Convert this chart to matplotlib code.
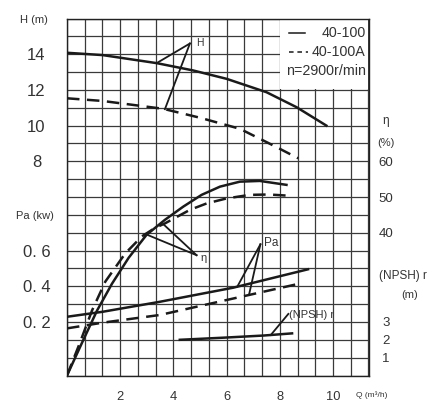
import numpy as np
import matplotlib
matplotlib.use("Agg")
import matplotlib.pyplot as plt
from matplotlib.patches import Rectangle

plt.rcParams['font.family'] = ['Liberation Sans', 'DejaVu Sans']

# 扬程 H (m)
q_h_a = [0, 1.34, 3.37, 4.74, 6.0, 7.5, 8.63, 9.75]
h_a = [14.08, 13.95, 13.5, 13.09, 12.62, 11.87, 11.03, 10.0]
q_h_b = [0, 1.34, 3.62, 5.0, 6.5, 7.75, 8.69]
h_b = [11.53, 11.38, 10.94, 10.44, 9.82, 8.89, 8.17]

# 效率 eta (%)
q_eta_a = [0, 0.56, 1.13, 1.69, 2.32, 2.99, 3.68, 4.37, 5.06, 5.75, 6.5, 7.25, 8.25]
eta_a = [0, 9.1, 18.2, 25.7, 33.0, 39.4, 43.6, 47.3, 50.6, 52.9, 54.3, 54.5, 53.4]
q_eta_b = [0, 0.45, 0.94, 1.44, 2.19, 2.82, 3.3, 3.68, 4.62, 5.25, 6.0, 6.87, 7.6, 8.25]
eta_b = [0, 8.5, 18.2, 26.3, 34.2, 39.0, 41.3, 42.6, 46.4, 48.2, 49.6, 50.6, 50.7, 50.4]

# 轴功率 Pa (kW)
q_pa_a = [0, 1.34, 3.49, 6.25, 9.06]
pa_a = [0.229, 0.257, 0.313, 0.392, 0.495]
q_pa_b = [0, 1.34, 3.49, 6.3, 8.63]
pa_b = [0.164, 0.196, 0.239, 0.333, 0.411]

# 必需汽蚀余量 (NPSH)r (m)
q_npsh = [4.24, 5.9, 7.4, 8.46]
npsh = [2.0, 2.12, 2.24, 2.36]

q_ticks = [2, 4, 6, 8, 10]
h_ticks = [8, 10, 12, 14]
eta_ticks = [40, 50, 60]
pa_ticks = [0.2, 0.4, 0.6]
pa_labels = ['0. 2', '0. 4', '0. 6']
npsh_ticks = [1, 2, 3]

W, H = 448, 412
ink = '#1a1a1a'
txt = '#333333'

fig = plt.figure(figsize=(W / 100, H / 100), dpi=100)
ax = fig.add_axes([67 / W, (H - 375.5) / H, 301.5 / W, 357 / H])
ax.set_xlim(0, 34 / 3)
ax.set_ylim(-4, 16)

# 网格 (每格 Q=2/3, H=1)
ax.set_xticks(np.arange(0, 34 / 3 + 0.01, 2 / 3), minor=True)
ax.set_yticks(np.arange(-4, 16.01, 1), minor=True)
ax.set_xticks(q_ticks)
ax.set_xticklabels([str(v) for v in q_ticks])
ax.set_yticks(h_ticks)
ax.set_yticklabels([str(v) for v in h_ticks])
ax.grid(which='both', color='#3a3a3a', lw=0.9, zorder=0)
ax.set_axisbelow(True)
for s in ax.spines.values():
    s.set_color('#222222')
    s.set_linewidth(1.0)
ax.tick_params(which='both', length=0)
ax.tick_params(axis='x', which='major', pad=11.5, labelsize=9.3, labelcolor=txt)
ax.tick_params(axis='y', which='major', pad=22, labelsize=12, labelcolor=txt)
for lb in ax.get_yticklabels():
    lb.set_horizontalalignment('center')

# 图例区域 (遮住网格)
ax.add_patch(Rectangle((12 / 17 + 0.002, 0.8 + 0.002), 5 / 17 - 0.004, 0.2 - 0.004,
                       transform=ax.transAxes, facecolor='white', edgecolor='none', zorder=2))


def twin(ylim):
    t = ax.twinx()
    t.set_ylim(*ylim)
    for s in t.spines.values():
        s.set_visible(False)
    return t


ax_eta = twin((0, 100))
ax_pa = twin((-0.1, 1.9))
ax_npsh = twin((0, 20))

ax_eta.set_yticks(eta_ticks)
ax_eta.set_yticklabels([str(v) for v in eta_ticks])
ax_eta.tick_params(axis='y', length=0, pad=12.6, labelsize=9.5, labelcolor=txt)
ax_npsh.set_yticks(npsh_ticks)
ax_npsh.set_yticklabels([str(v) for v in npsh_ticks])
ax_npsh.tick_params(axis='y', length=0, pad=12.6, labelsize=9.5, labelcolor=txt)
for t in (ax_eta, ax_npsh):
    for lb in t.get_yticklabels():
        lb.set_horizontalalignment('center')

ax_pa.yaxis.tick_left()
ax_pa.set_yticks(pa_ticks)
ax_pa.set_yticklabels(pa_labels)
ax_pa.tick_params(axis='y', length=0, pad=22, labelsize=12, labelcolor=txt)
for lb in ax_pa.get_yticklabels():
    lb.set_horizontalalignment('center')

lw = 1.8
dash = (0, (5, 3))
ax.plot(q_h_a, h_a, color=ink, lw=lw, zorder=3)
ax.plot(q_h_b, h_b, color=ink, lw=lw, ls=dash, zorder=3)
ax_eta.plot(q_eta_a, eta_a, color=ink, lw=lw)
ax_eta.plot(q_eta_b, eta_b, color=ink, lw=lw, ls=dash)
ax_pa.plot(q_pa_a, pa_a, color=ink, lw=lw)
ax_pa.plot(q_pa_b, pa_b, color=ink, lw=lw, ls=dash)
ax_npsh.plot(q_npsh, npsh, color=ink, lw=lw)


# 引线: 从曲线上的点连到标注顶点
def leader(a, apex, pts, curves):
    for xq, (qq, vv) in zip(pts, curves):
        a.plot([xq, apex[0]], [np.interp(xq, qq, vv), apex[1]], color=ink, lw=1.3)


leader(ax, (4.62, 14.6), [3.37, 3.68], [(q_h_a, h_a), (q_h_b, h_b)])
ax.text(4.85, 14.6, 'H', fontsize=7.5, color=txt, va='center')
leader(ax_eta, (4.87, 33.7), [3.0, 3.62], [(q_eta_a, eta_a), (q_eta_b, eta_b)])
ax_eta.text(5.0, 33.0, 'η', fontsize=8, color=txt, va='center')
leader(ax_pa, (7.27, 0.635), [6.4, 6.84], [(q_pa_a, pa_a), (q_pa_b, pa_b)])
ax_pa.text(7.4, 0.64, 'Pa', fontsize=8.5, color=txt, va='center')
leader(ax_npsh, (8.32, 3.45), [7.66], [(q_npsh, npsh)])
ax_npsh.text(8.33, 3.4, '(NPSH) r', fontsize=8, color=txt, va='center')

# 图例
ax.plot([12.5 * 2 / 3, 13.4 * 2 / 3], [15.17, 15.17], color=ink, lw=1.1, zorder=3)
ax.plot([12.5 * 2 / 3, 13.6 * 2 / 3], [14.14, 14.14], color=ink, lw=1.1, ls=(0, (3, 2.5)), zorder=3)
ax.text(0.991, 0.959, '40-100', transform=ax.transAxes, ha='right', va='center', fontsize=10.3, color=txt, zorder=3)
ax.text(0.991, 0.907, '40-100A', transform=ax.transAxes, ha='right', va='center', fontsize=10.3, color=txt, zorder=3)
ax.text(0.991, 0.853, 'n=2900r/min', transform=ax.transAxes, ha='right', va='center', fontsize=10.3, color=txt, zorder=3)


# 轴标题
def ftext(x, y, s, **kw):
    fig.text(x / W, 1 - y / H, s, ha='center', va='center', color=txt, **kw)


ftext(34, 20, 'H (m)', fontsize=8)
ftext(35, 216, 'Pa (kw)', fontsize=8)
ftext(386, 121, 'η', fontsize=8.5)
ftext(386, 143, '(%)', fontsize=8)
ftext(403, 276, '(NPSH) r', fontsize=8.5)
ftext(410, 295, '(m)', fontsize=8)
ftext(372, 395, 'Q (m³/h)', fontsize=6)

fig.savefig('out.png', dpi=100, facecolor='white')
